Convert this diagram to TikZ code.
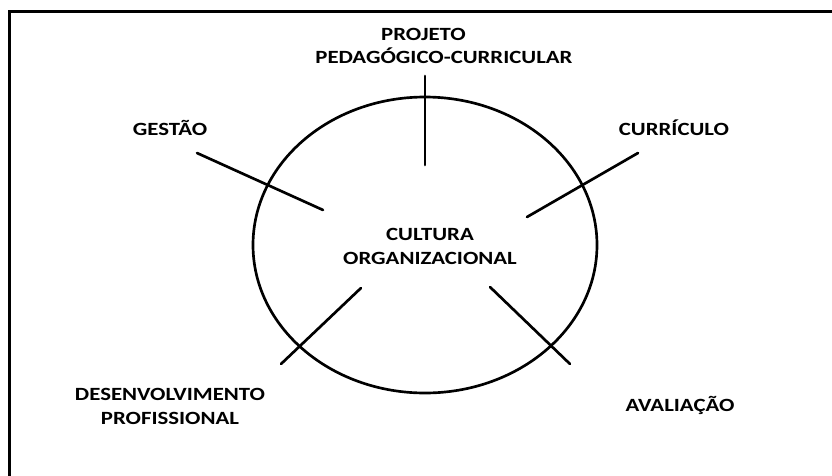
\documentclass[tikz,border=0pt]{standalone}
\usepackage{fontspec}
\setmainfont{Carlito}[FakeStretch=1.22]
\usepackage{tikz}
\usetikzlibrary{shapes.geometric,positioning,calc}

\begin{document}
\begin{tikzpicture}[x=0.75pt,y=-0.75pt,
  label/.style={font=\bfseries\fontsize{14}{18}\selectfont, inner sep=0pt,
    anchor=base, align=center},
  spoke/.style={line width=2pt, line cap=round},
]
\clip (0,0) rectangle (832,475);
\useasboundingbox (0,0) rectangle (832,475);
% frame, only top and left edges fall inside the picture
\draw[line width=2.4pt] (9.5,11.5) rectangle (900,540);

% central ellipse
\node[draw, line width=2pt, ellipse, minimum width=344*0.75pt,
  minimum height=296*0.75pt, inner sep=0pt] (cult) at (425,245) {};
\node[label] (centro) at (430,264) {CULTURA\\ORGANIZACIONAL};

% labels round the ellipse
\node[label] (proj) at (423.5,40) {PROJETO};
\node[label] (ped) at (444,63) {PEDAGÓGICO-CURRICULAR};
\node[label] (gest) at (170,135) {GESTÃO};
\node[label] (curr) at (674,135) {CURRÍCULO};
\node[label] (desenv) at (170,424) {DESENVOLVIMENTO\\PROFISSIONAL};
\node[label] (aval) at (680,411) {AVALIAÇÃO};

% spokes
\coordinate (p1) at (425,76);  \coordinate (p2) at (425,165);
\coordinate (g1) at (197,153); \coordinate (g2) at (323,210);
\coordinate (c1) at (638,153); \coordinate (c2) at (527,217);
\coordinate (d1) at (361,288); \coordinate (d2) at (281,364);
\coordinate (a1) at (490,287); \coordinate (a2) at (570,364);
\draw[spoke] (p1) -- (p2);
\draw[spoke] (g1) -- (g2);
\draw[spoke] (c1) -- (c2);
\draw[spoke] (d1) -- (d2);
\draw[spoke] (a1) -- (a2);
\end{tikzpicture}
\end{document}
